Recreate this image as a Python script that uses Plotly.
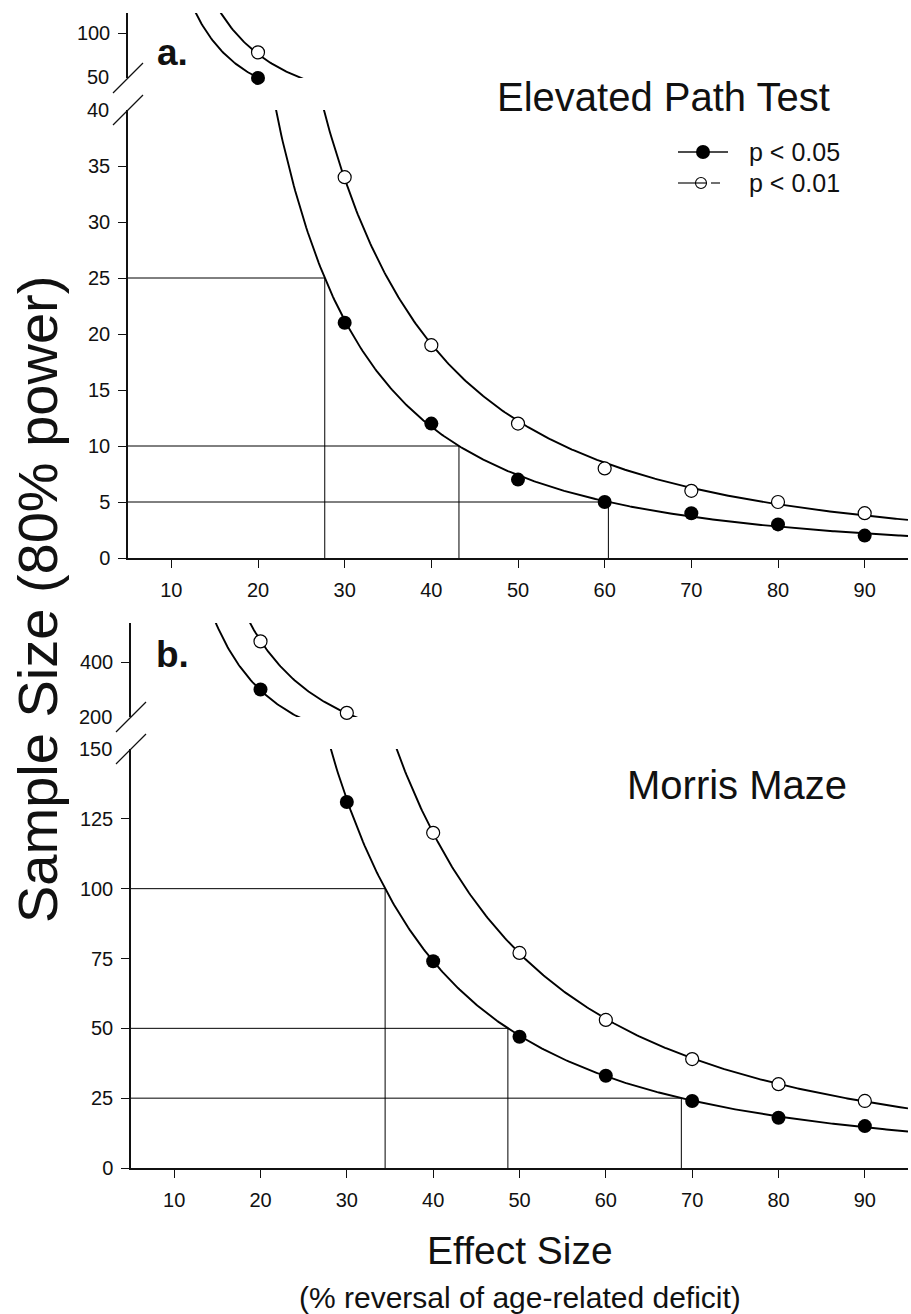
import numpy as np
import plotly.graph_objects as go

# ---------------- data ----------------
effect_size = [20, 30, 40, 50, 60, 70, 80, 90]

# a. Elevated Path Test
ept_p05 = [49, 21, 12, 7, 5, 4, 3, 2]
ept_p01 = [78, 34, 19, 12, 8, 6, 5, 4]
ept_ref_n = [25, 10, 5]          # sample sizes marked with drop lines (p<0.05 curve)

# b. Morris Maze
mm_p05 = [300, 131, 74, 47, 33, 24, 18, 15]
mm_p01 = [475, 215, 120, 77, 53, 39, 30, 24]
mm_ref_n = [100, 50, 25]

x_ticks = [10, 20, 30, 40, 50, 60, 70, 80, 90]
ept_main_ticks = [0, 5, 10, 15, 20, 25, 30, 35]
ept_upper_ticks = [100]
ept_break_labels = [50, 40]      # upper-segment bottom, main-segment top
mm_main_ticks = [0, 25, 50, 75, 100, 125]
mm_upper_ticks = [400]
mm_break_labels = [200, 150]

legend_labels = ["p < 0.05", "p < 0.01"]

# ---------------- geometry helpers ----------------
W, H = 911, 1314
FONT = "Liberation Sans, Arial, sans-serif"
TICK_FONT = dict(family=FONT, size=20, color="#111")


def X(px):
    return px / W


def Y(py):
    return 1 - py / H


XL_A, XR = 128, 908
XL_B = 131
# y pixel extents of the four segments
A_UP = (13, 78)
A_MAIN = (110, 558)
B_UP = (623, 717)
B_MAIN = (749, 1168)

RANGES = {
    "a_up": [50 - 1 / 0.88, 100 + 20 / 0.88],
    "a_main": [0, 40],
    "b_up": [200, 200 + (717 - 623) / 0.275],
    "b_main": [0, 150],
}


def powerfit(x, y):
    b, lna = np.polyfit(np.log(x), np.log(y), 1)
    return b, lna


xs = np.linspace(5, 95, 500)

fig = go.Figure()

panels = [
    dict(xa="x", ya="y", xb="x2", yb="y2", p05=ept_p05, p01=ept_p01,
         refs=ept_ref_n, upper_min=RANGES["a_up"][0]),
    dict(xa="x3", ya="y3", xb="x4", yb="y4", p05=mm_p05, p01=mm_p01,
         refs=mm_ref_n, upper_min=RANGES["b_up"][0]),
]

ex = np.array(effect_size, dtype=float)
for pn in panels:
    fits = {}
    for key in ("p05", "p01"):
        yv = np.array(pn[key], dtype=float)
        b, lna = powerfit(ex, yv)
        fits[key] = (b, lna)
        yfit = np.exp(lna + b * np.log(xs))
        for xa, ya in ((pn["xa"], pn["ya"]), (pn["xb"], pn["yb"])):
            fig.add_trace(go.Scatter(x=xs, y=yfit, mode="lines", xaxis=xa, yaxis=ya,
                                     line=dict(color="black", width=1.9),
                                     hoverinfo="skip", showlegend=False))
    # drop lines from the p<0.05 fit
    b, lna = fits["p05"]
    for n in pn["refs"]:
        xr = float(np.exp((np.log(n) - lna) / b))
        fig.add_trace(go.Scatter(x=[5, xr, xr], y=[n, n, 0], mode="lines",
                                 xaxis=pn["xb"], yaxis=pn["yb"],
                                 line=dict(color="black", width=1),
                                 hoverinfo="skip", showlegend=False))
    # markers, split into upper / main segment
    for key, filled in (("p05", True), ("p01", False)):
        yv = np.array(pn[key], dtype=float)
        up = yv >= pn["upper_min"] - 5
        for mask, xa, ya in ((up, pn["xa"], pn["ya"]), (~up, pn["xb"], pn["yb"])):
            if not mask.any():
                continue
            fig.add_trace(go.Scatter(
                x=ex[mask], y=yv[mask], mode="markers", xaxis=xa, yaxis=ya,
                cliponaxis=False, showlegend=False,
                marker=dict(size=14 if filled else 13, symbol="circle",
                            color="black" if filled else "white",
                            line=dict(color="black", width=0 if filled else 1.2)),
            ))

axis_common = dict(showgrid=False, zeroline=False, showline=True, linecolor="#111",
                   linewidth=1.5, ticks="outside", ticklen=8, tickwidth=1.2,
                   tickcolor="#111", tickfont=TICK_FONT)

layout = dict(
    width=W, height=H, margin=dict(l=0, r=0, t=0, b=0, autoexpand=False),
    paper_bgcolor="white", plot_bgcolor="white", showlegend=False,
    font=dict(family=FONT, color="#111"),
)


def xaxis(domain, visible):
    d = dict(domain=domain, range=[5, 95], showgrid=False, zeroline=False,
             fixedrange=True)
    if visible:
        d.update(axis_common)
        d.update(tickvals=x_ticks, ticklabelstandoff=5)
    else:
        d.update(visible=False)
    return d


def yaxis(anchor, pix, rng, ticks):
    d = dict(axis_common)
    d.update(anchor=anchor, domain=[Y(pix[1]), Y(pix[0])], range=rng,
             tickvals=ticks, ticklabelstandoff=4, fixedrange=True)
    return d


layout["xaxis"] = xaxis([X(XL_A), X(XR)], False)
layout["xaxis2"] = xaxis([X(XL_A), X(XR)], True)
layout["xaxis3"] = xaxis([X(XL_B), X(XR)], False)
layout["xaxis4"] = xaxis([X(XL_B), X(XR)], True)
layout["xaxis2"]["anchor"] = "y2"
layout["xaxis4"]["anchor"] = "y4"
layout["yaxis"] = yaxis("x", A_UP, RANGES["a_up"], ept_upper_ticks)
layout["yaxis2"] = yaxis("x2", A_MAIN, RANGES["a_main"], ept_main_ticks)
layout["yaxis3"] = yaxis("x3", B_UP, RANGES["b_up"], mm_upper_ticks)
layout["yaxis4"] = yaxis("x4", B_MAIN, RANGES["b_main"], mm_main_ticks)
fig.update_layout(**layout)

annotations = []
shapes = []


def text(t, px, py, size, xanchor="center", angle=0):
    return dict(text=t, x=X(px), y=Y(py), xref="paper", yref="paper", showarrow=False,
                xanchor=xanchor, yanchor="middle", textangle=angle,
                font=dict(family=FONT, size=size, color="#111"))


# break labels and slashes
for labels, xl, yrefs, pys in (
        (ept_break_labels, XL_A, ("y", "y2"), (A_UP[1], A_MAIN[0])),
        (mm_break_labels, XL_B, ("y3", "y4"), (B_UP[1], B_MAIN[0]))):
    for lab, yr in zip(labels, yrefs):
        annotations.append(dict(text=str(lab), x=X(xl - 17), xref="paper", y=lab, yref=yr,
                                xanchor="right", yanchor="middle", showarrow=False,
                                font=TICK_FONT))
    for py in pys:
        shapes.append(dict(type="line", xref="paper", yref="paper",
                           x0=X(xl - 15), y0=Y(py + 15), x1=X(xl + 15), y1=Y(py - 15),
                           line=dict(color="#111", width=1.2)))

# panel letters and titles
annotations.append(text("<b>a.</b>", 172, 52, 37))
annotations.append(text("<b>b.</b>", 172, 655, 37))
annotations.append(text("Elevated Path Test", 663, 97, 40))
annotations.append(text("Morris Maze", 737, 785, 40))
annotations.append(text("Sample Size (80% power)", 37, 600, 56, angle=-90))
annotations.append(text("Effect Size", 520, 1250, 39))
annotations.append(text("(% reversal of age-related deficit)", 520, 1297, 30))

# legend (drawn manually)
leg_rows = [152, 183]
shapes.append(dict(type="line", xref="paper", yref="paper", x0=X(678), x1=X(728),
                   y0=Y(leg_rows[0]), y1=Y(leg_rows[0]), line=dict(color="#111", width=1.5)))
shapes.append(dict(type="circle", xref="paper", yref="paper", xsizemode="pixel",
                   ysizemode="pixel", xanchor=X(703), yanchor=Y(leg_rows[0]),
                   x0=-7, x1=7, y0=-7, y1=7, fillcolor="black", line=dict(color="black", width=0)))
shapes.append(dict(type="line", xref="paper", yref="paper", x0=X(678), x1=X(706),
                   y0=Y(leg_rows[1]), y1=Y(leg_rows[1]), line=dict(color="#111", width=1.2)))
shapes.append(dict(type="line", xref="paper", yref="paper", x0=X(711), x1=X(728),
                   y0=Y(leg_rows[1]), y1=Y(leg_rows[1]),
                   line=dict(color="#111", width=1.2, dash="dash")))
shapes.append(dict(type="circle", xref="paper", yref="paper", xsizemode="pixel",
                   ysizemode="pixel", xanchor=X(701), yanchor=Y(leg_rows[1]),
                   x0=-5.5, x1=5.5, y0=-5.5, y1=5.5,
                   line=dict(color="black", width=1.1)))
for lab, py in zip(legend_labels, leg_rows):
    annotations.append(text(lab, 747, py, 25, xanchor="left"))

fig.update_layout(annotations=annotations, shapes=shapes)
fig.write_html("out.html")
